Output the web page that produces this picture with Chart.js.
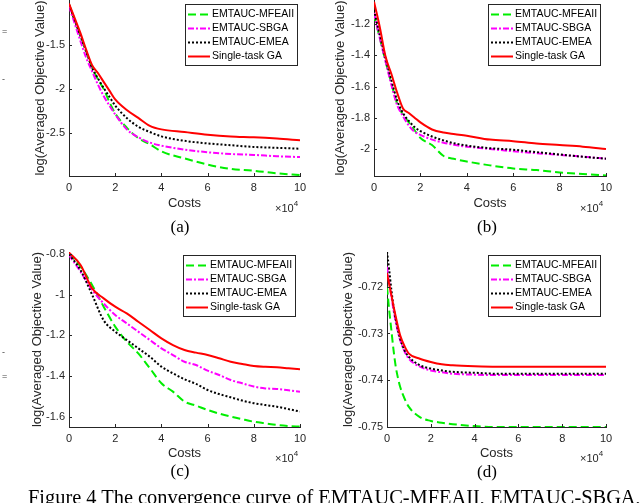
<!DOCTYPE html>
<html>
<head>
<meta charset="utf-8">
<script src="https://cdn.jsdelivr.net/npm/chart.js@4.4.1/dist/chart.umd.min.js"></script>
<style>
  html, body { margin: 0; padding: 0; background: #fff; }
  body { width: 640px; height: 503px; position: relative; overflow: hidden; font-family: Arial, "Liberation Sans", sans-serif; }
  canvas { position: absolute; }
  .mult { position: absolute; font-size: 11px; color: #262626; white-space: nowrap; z-index: 2; }
  .mult sup { font-size: 8px; position: relative; top: -1px; }
  .cap { position: absolute; font-family: "Times New Roman", "Liberation Serif", serif; font-size: 17px; line-height: 20px; transform: translateX(-50%); z-index: 2; }
  .fig { position: absolute; left: 28px; top: 485px; font-family: "Times New Roman", "Liberation Serif", serif; font-size: 20.4px; line-height: 24px; white-space: nowrap; z-index: 2; }
  .stray { position: absolute; left: 2px; font-size: 9px; line-height: 9px; color: #444; }
</style>
</head>
<body>
<canvas id="chart-a" style="left:0;top:0"></canvas>
<canvas id="chart-b" style="left:320px;top:0"></canvas>
<canvas id="chart-c" style="left:0;top:240px"></canvas>
<canvas id="chart-d" style="left:320px;top:240px"></canvas>

<span class="mult" style="left:275px;top:200px">&times;10<sup>4</sup></span>
<span class="mult" style="left:580px;top:200px">&times;10<sup>4</sup></span>
<span class="mult" style="left:275px;top:450px">&times;10<sup>4</sup></span>
<span class="mult" style="left:580px;top:450px">&times;10<sup>4</sup></span>

<div class="cap" style="left:180px;top:217px">(a)</div>
<div class="cap" style="left:487px;top:217px">(b)</div>
<div class="cap" style="left:180px;top:461px">(c)</div>
<div class="cap" style="left:487px;top:462px">(d)</div>
<div class="fig">Figure 4 The convergence curve of EMTAUC-MFEAII, EMTAUC-SBGA,</div>

<span class="stray" style="top:27px">=</span>
<span class="stray" style="top:75px">-</span>
<span class="stray" style="top:348px">-</span>
<span class="stray" style="top:372px">=</span>

<script>
const seriesNames = ["EMTAUC-MFEAII", "EMTAUC-SBGA", "EMTAUC-EMEA", "Single-task GA"];
const xTickValues = [0, 2, 4, 6, 8, 10];
const xTickLabels = ["0", "2", "4", "6", "8", "10"];

// (a)
const costsA = [0, 0.25, 0.5, 0.75, 1, 1.25, 1.5, 1.75, 2, 2.5, 3, 3.5, 4, 5, 6, 7, 8, 9, 10];
const mfeaiiA = [-1.04, -1.22, -1.40, -1.58, -1.76, -1.89, -2.0, -2.15, -2.28, -2.44, -2.56, -2.63, -2.71, -2.79, -2.86, -2.91, -2.93, -2.96, -2.98];
const sbgaA = [-1.06, -1.26, -1.46, -1.65, -1.80, -1.95, -2.08, -2.19, -2.29, -2.46, -2.55, -2.61, -2.645, -2.69, -2.72, -2.74, -2.75, -2.765, -2.775];
const emeaA = [-1.04, -1.22, -1.40, -1.58, -1.76, -1.88, -1.99, -2.09, -2.19, -2.33, -2.43, -2.49, -2.54, -2.59, -2.62, -2.64, -2.66, -2.67, -2.68];
const singleA = [-1.03, -1.20, -1.37, -1.56, -1.73, -1.82, -1.92, -2.02, -2.12, -2.24, -2.33, -2.42, -2.46, -2.49, -2.52, -2.54, -2.55, -2.565, -2.585];
const yTicksA = [-2.5, -2, -1.5];
const yLabelsA = ["-2.5", "-2", "-1.5"];

// (b)
const costsB = [0, 0.25, 0.5, 0.75, 1, 1.25, 1.5, 1.75, 2, 2.5, 3, 3.5, 4, 5, 6, 7, 8, 9, 10];
const mfeaiiB = [-1.14, -1.29, -1.44, -1.58, -1.71, -1.78, -1.83, -1.88, -1.93, -1.975, -2.045, -2.065, -2.08, -2.105, -2.125, -2.135, -2.15, -2.16, -2.17];
const sbgaB = [-1.13, -1.29, -1.44, -1.59, -1.72, -1.79, -1.85, -1.89, -1.91, -1.94, -1.96, -1.975, -1.985, -2.0, -2.015, -2.027, -2.038, -2.049, -2.062];
const emeaB = [-1.11, -1.27, -1.42, -1.56, -1.69, -1.77, -1.82, -1.86, -1.885, -1.92, -1.945, -1.965, -1.978, -1.995, -2.005, -2.02, -2.035, -2.05, -2.062];
const singleB = [-1.057, -1.22, -1.41, -1.52, -1.64, -1.74, -1.77, -1.80, -1.83, -1.875, -1.895, -1.905, -1.915, -1.94, -1.95, -1.965, -1.975, -1.985, -2.0];
const yTicksB = [-2, -1.8, -1.6, -1.4, -1.2];
const yLabelsB = ["-2", "-1.8", "-1.6", "-1.4", "-1.2"];

// (c)
const costsC = [0, 0.5, 1, 1.5, 2, 2.5, 3, 3.5, 4, 4.5, 5, 5.5, 6, 6.5, 7, 7.5, 8, 8.5, 9, 9.5, 10];
const mfeaiiC = [-0.797, -0.862, -0.952, -1.059, -1.157, -1.231, -1.289, -1.362, -1.436, -1.477, -1.526, -1.546, -1.567, -1.585, -1.60, -1.613, -1.625, -1.633, -1.641, -1.646, -1.649];
const sbgaC = [-0.805, -0.887, -0.977, -1.043, -1.10, -1.141, -1.182, -1.223, -1.264, -1.297, -1.33, -1.346, -1.374, -1.395, -1.42, -1.436, -1.452, -1.461, -1.464, -1.47, -1.477];
const emeaC = [-0.80, -0.88, -1.0, -1.126, -1.182, -1.223, -1.264, -1.305, -1.354, -1.387, -1.416, -1.439, -1.469, -1.489, -1.505, -1.521, -1.534, -1.543, -1.551, -1.563, -1.575];
const singleC = [-0.793, -0.854, -0.969, -1.018, -1.059, -1.092, -1.133, -1.174, -1.215, -1.248, -1.272, -1.285, -1.297, -1.313, -1.33, -1.341, -1.351, -1.355, -1.357, -1.362, -1.367];
const yTicksC = [-1.6, -1.4, -1.2, -1, -0.8];
const yLabelsC = ["-1.6", "-1.4", "-1.2", "-1", "-0.8"];

// (d)
const costsD = [0, 0.1, 0.2, 0.3, 0.4, 0.5, 0.6, 0.8, 1, 1.5, 2, 2.5, 3, 4, 5, 6, 7, 8, 9, 10];
const mfeaiiD = [-0.72, -0.725, -0.7293, -0.7336, -0.7371, -0.7395, -0.7414, -0.7439, -0.7457, -0.7479, -0.7487, -0.7491, -0.7494, -0.7498, -0.75, -0.75, -0.75, -0.75, -0.75, -0.75];
const sbgaD = [-0.7157, -0.719, -0.7221, -0.725, -0.7275, -0.7296, -0.7314, -0.7338, -0.7354, -0.7371, -0.7379, -0.7383, -0.7386, -0.7388, -0.7389, -0.7389, -0.7389, -0.7389, -0.7389, -0.7389];
const emeaD = [-0.7125, -0.7164, -0.7207, -0.7243, -0.7271, -0.7293, -0.7311, -0.7336, -0.735, -0.7368, -0.7375, -0.7379, -0.7382, -0.7384, -0.7386, -0.7386, -0.7386, -0.7386, -0.7386, -0.7386];
const singleD = [-0.7171, -0.7195, -0.7218, -0.7242, -0.7264, -0.7285, -0.7304, -0.7327, -0.7343, -0.7354, -0.7361, -0.7366, -0.7368, -0.737, -0.7371, -0.7371, -0.7371, -0.7371, -0.7371, -0.7371];
const yTicksD = [-0.75, -0.74, -0.73, -0.72];
const yLabelsD = ["-0.75", "-0.74", "-0.73", "-0.72"];

const seriesStyles = [
  { color: "#00ee00", dash: [8, 4] },
  { color: "#ff00ff", dash: [6, 2, 2, 2] },
  { color: "#000000", dash: [2, 2] },
  { color: "#ff0000", dash: [] },
];

const AXIS_COLOR = "#262626";
const FONT_FAMILY = "Arial, 'Liberation Sans', sans-serif";
const TITLE_SIZE = 13;
const TITLE_HALF = TITLE_SIZE * 1.2 / 2;

// matlab style: tick marks point into the plot
const inwardTicks = {
  id: "inwardTicks",
  afterDraw(chart) {
    const { ctx, chartArea, scales } = chart;
    ctx.save();
    ctx.strokeStyle = AXIS_COLOR;
    ctx.lineWidth = 1;
    ctx.beginPath();
    scales.x.ticks.forEach((t) => {
      const px = Math.round(scales.x.getPixelForValue(t.value)) + 0.5;
      ctx.moveTo(px, chartArea.bottom);
      ctx.lineTo(px, chartArea.bottom - 3);
    });
    scales.y.ticks.forEach((t) => {
      const py = Math.round(scales.y.getPixelForValue(t.value)) + 0.5;
      ctx.moveTo(chartArea.left, py);
      ctx.lineTo(chartArea.left + 3, py);
    });
    ctx.stroke();
    ctx.restore();
  },
};

// boxed legend inside the upper right corner of the plot
const boxLegend = {
  id: "boxLegend",
  afterDatasetsDraw(chart, args, opts) {
    const { ctx, chartArea } = chart;
    const w = 112;
    const h = 61;
    const left = Math.round(chartArea.right - opts.right - w);
    const top = Math.round(chartArea.top + opts.top);
    ctx.save();
    ctx.fillStyle = "#fff";
    ctx.fillRect(left, top, w, h);
    ctx.strokeStyle = AXIS_COLOR;
    ctx.lineWidth = 1;
    ctx.strokeRect(left + 0.5, top + 0.5, w, h);
    ctx.font = "10.5px " + FONT_FAMILY;
    ctx.textBaseline = "middle";
    chart.data.datasets.forEach((ds, i) => {
      const y = top + 10.5 + i * 14;
      ctx.strokeStyle = ds.borderColor;
      ctx.lineWidth = ds.borderWidth;
      ctx.setLineDash(ds.borderDash);
      ctx.beginPath();
      ctx.moveTo(left + 3, y);
      ctx.lineTo(left + 25, y);
      ctx.stroke();
      ctx.setLineDash([]);
      ctx.fillStyle = "#000";
      ctx.fillText(ds.label, left + 27, y);
    });
    ctx.restore();
  },
};

function drawPanel(p) {
  const canvas = document.getElementById(p.id);
  canvas.width = 320;
  canvas.height = 230;
  const padLeft = p.titleX - TITLE_HALF;

  new Chart(canvas, {
    type: "line",
    data: {
      datasets: p.series.map((vals, i) => ({
        label: seriesNames[i],
        data: p.costs.map((c, k) => ({ x: c, y: vals[k] })),
        borderColor: seriesStyles[i].color,
        borderDash: seriesStyles[i].dash,
        borderWidth: 2,
        pointRadius: 0,
        cubicInterpolationMode: "monotone",
        fill: false,
        order: 4 - i,
      })),
    },
    options: {
      responsive: false,
      animation: false,
      devicePixelRatio: 1,
      layout: { padding: { left: padLeft, right: 320 - p.right, top: p.top, bottom: 0 } },
      plugins: {
        legend: { display: false },
        tooltip: { enabled: false },
        boxLegend: { right: p.legendRight, top: p.legendTop },
      },
      scales: {
        x: {
          type: "linear",
          min: 0,
          max: 10,
          afterBuildTicks: (s) => { s.ticks = xTickValues.map((v) => ({ value: v })); },
          afterFit: (s) => { s.height = 230 - p.bottom; s.paddingLeft = 0; s.paddingRight = 0; },
          ticks: {
            autoSkip: false,
            maxRotation: 0,
            padding: 5,
            color: AXIS_COLOR,
            font: { family: FONT_FAMILY, size: 11 },
            callback: (v, i) => xTickLabels[i],
          },
          grid: { drawOnChartArea: false, drawTicks: false },
          border: { color: AXIS_COLOR, width: 1 },
          title: {
            display: true,
            text: "Costs",
            color: AXIS_COLOR,
            font: { family: FONT_FAMILY, size: TITLE_SIZE },
            padding: { top: 0, bottom: 230 - TITLE_HALF - p.costsY },
          },
        },
        y: {
          min: p.yMin,
          max: p.yMax,
          afterBuildTicks: (s) => { s.ticks = p.yTicks.map((v) => ({ value: v })); },
          afterFit: (s) => { s.width = p.left - padLeft; s.paddingTop = 0; s.paddingBottom = 0; },
          ticks: {
            autoSkip: false,
            padding: 4,
            color: AXIS_COLOR,
            font: { family: FONT_FAMILY, size: 11 },
            callback: (v, i) => p.yLabels[i],
          },
          grid: { drawOnChartArea: false, drawTicks: false },
          border: { color: AXIS_COLOR, width: 1 },
          title: {
            display: true,
            text: "log(Averaged Objective Value)",
            color: AXIS_COLOR,
            font: { family: FONT_FAMILY, size: TITLE_SIZE },
            padding: 0,
          },
        },
      },
    },
    plugins: [inwardTicks, boxLegend],
  });
}

drawPanel({
  id: "chart-a", costs: costsA, series: [mfeaiiA, sbgaA, emeaA, singleA],
  yTicks: yTicksA, yLabels: yLabelsA, yMin: -2.99, yMax: -0.99,
  left: 69, right: 300, top: 0, bottom: 176, titleX: 40, costsY: 203, legendRight: 3, legendTop: 4,
});
drawPanel({
  id: "chart-b", costs: costsB, series: [mfeaiiB, sbgaB, emeaB, singleB],
  yTicks: yTicksB, yLabels: yLabelsB, yMin: -2.173, yMax: -1.046,
  left: 54, right: 286, top: 0, bottom: 176, titleX: 20, costsY: 203, legendRight: 6, legendTop: 4,
});
drawPanel({
  id: "chart-c", costs: costsC, series: [mfeaiiC, sbgaC, emeaC, singleC],
  yTicks: yTicksC, yLabels: yLabelsC, yMin: -1.651, yMax: -0.79,
  left: 69, right: 300, top: 12, bottom: 187, titleX: 37, costsY: 213, legendRight: 5, legendTop: 3,
});
drawPanel({
  id: "chart-d", costs: costsD, series: [mfeaiiD, sbgaD, emeaD, singleD],
  yTicks: yTicksD, yLabels: yLabelsD, yMin: -0.75, yMax: -0.71257,
  left: 67, right: 286, top: 12, bottom: 187, titleX: 28, costsY: 213, legendRight: 6, legendTop: 3,
});
</script>
</body>
</html>
